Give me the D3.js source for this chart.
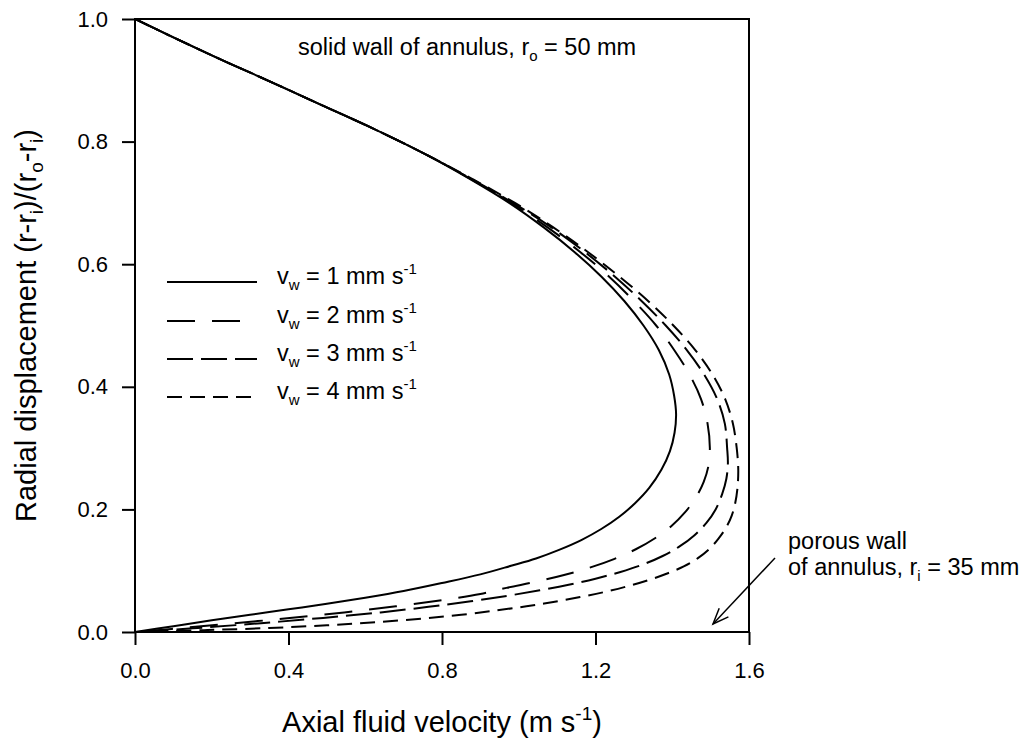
<!DOCTYPE html>
<html>
<head>
<meta charset="utf-8">
<script src="https://cdn.jsdelivr.net/npm/d3@7"></script>
<style>
  html, body { margin: 0; padding: 0; background: #fff; }
  svg { display: block; font-family: "Liberation Sans", Arial, sans-serif; }
</style>
</head>
<body>
<svg id="chart" width="1032" height="742"></svg>
<script>
// ---- data (axial velocity m/s vs radial displacement) ----
const xTicks = [0.0, 0.4, 0.8, 1.2, 1.6];
const yTicks = [0.0, 0.2, 0.4, 0.6, 0.8, 1.0];
const seriesLabels = ["1", "2", "3", "4"];

const vw1_v = [0,0.10,0.22,0.345,0.485,0.625,0.755,0.87,0.975,1.065,1.145,1.215,1.275,1.325,1.365,1.392,1.405,1.41,1.406,1.394,1.372,1.34,1.303,1.262,1.215,1.163,1.105,1.045,0.98,0.90,0.80,0.70,0.60,0.50,0.40,0.30,0.20,0.10,0];
const vw1_r = [1.0,0.97,0.935,0.90,0.86,0.82,0.78,0.74,0.70,0.66,0.62,0.58,0.54,0.50,0.46,0.42,0.385,0.355,0.325,0.295,0.265,0.235,0.21,0.188,0.168,0.15,0.134,0.12,0.108,0.094,0.08,0.067,0.056,0.046,0.037,0.028,0.019,0.0095,0];

const vw2_v = [0,0.10,0.22,0.345,0.485,0.625,0.755,0.872,0.98,1.075,1.16,1.235,1.30,1.358,1.405,1.445,1.475,1.492,1.498,1.494,1.482,1.462,1.433,1.398,1.355,1.305,1.248,1.185,1.118,1.045,0.968,0.90,0.80,0.68,0.545,0.39,0.22,0.095,0];
const vw2_r = [1.0,0.97,0.935,0.90,0.86,0.82,0.78,0.74,0.70,0.66,0.62,0.58,0.54,0.50,0.46,0.42,0.38,0.34,0.30,0.27,0.245,0.22,0.195,0.173,0.153,0.135,0.119,0.105,0.093,0.082,0.072,0.062,0.052,0.042,0.032,0.022,0.012,0.005,0];

const vw3_v = [0,0.10,0.22,0.345,0.485,0.625,0.755,0.874,0.985,1.085,1.172,1.25,1.32,1.383,1.438,1.483,1.517,1.537,1.543,1.545,1.541,1.53,1.513,1.489,1.458,1.42,1.375,1.323,1.265,1.20,1.13,1.055,0.97,0.875,0.765,0.64,0.49,0.32,0.15,0];
const vw3_r = [1.0,0.97,0.935,0.90,0.86,0.82,0.78,0.74,0.70,0.66,0.62,0.58,0.54,0.50,0.46,0.42,0.38,0.34,0.30,0.275,0.25,0.225,0.20,0.178,0.158,0.14,0.124,0.11,0.098,0.087,0.077,0.068,0.059,0.05,0.041,0.032,0.023,0.014,0.006,0];

const vw4_v = [0,0.10,0.22,0.345,0.485,0.625,0.755,0.876,0.99,1.09,1.18,1.262,1.337,1.403,1.46,1.505,1.538,1.558,1.568,1.572,1.57,1.564,1.555,1.54,1.52,1.496,1.466,1.43,1.385,1.335,1.28,1.222,1.16,1.09,1.02,0.94,0.85,0.75,0.63,0.50,0.35,0.18,0];
const vw4_r = [1.0,0.97,0.935,0.90,0.86,0.82,0.78,0.74,0.70,0.66,0.62,0.58,0.54,0.50,0.46,0.42,0.38,0.34,0.30,0.265,0.235,0.21,0.19,0.17,0.152,0.135,0.12,0.107,0.095,0.084,0.074,0.065,0.057,0.049,0.042,0.035,0.028,0.022,0.016,0.011,0.0065,0.003,0];

const seriesV = [vw1_v, vw2_v, vw3_v, vw4_v];
const seriesR = [vw1_r, vw2_r, vw3_r, vw4_r];
const dashes = [null, "28,17", "26,8", "15,8"];

// ---- layout ----
const svg = d3.select("#chart");
const L = 135, R = 749, T = 19, B = 632;
const x = d3.scaleLinear().domain([0, 1.6]).range([L, R]);
const y = d3.scaleLinear().domain([0, 1.0]).range([B, T]);

const FS_TICK = 22, FS_TXT = 23.5, FS_TITLE = 29;

// axes
const xAxis = d3.axisBottom(x).tickValues(xTicks).tickFormat(d3.format(".1f")).tickSize(13).tickPadding(18);
const yAxis = d3.axisLeft(y).tickValues(yTicks).tickFormat(d3.format(".1f")).tickSize(13).tickPadding(14);

const gx = svg.append("g").attr("transform", `translate(0,${B})`).call(xAxis);
const gy = svg.append("g").attr("transform", `translate(${L},0)`).call(yAxis);
[gx, gy].forEach(g => {
  g.select(".domain").remove();
  g.selectAll(".tick line").attr("stroke", "#000").attr("stroke-width", 2);
  g.selectAll(".tick text").attr("font-size", FS_TICK).attr("fill", "#000")
    .attr("font-family", "'Liberation Sans', Arial, sans-serif");
});
gx.selectAll(".tick text").attr("dy", "0").attr("y", 46);

// frame
svg.append("rect").attr("x", L).attr("y", T).attr("width", R - L).attr("height", B - T)
  .attr("fill", "none").attr("stroke", "#000").attr("stroke-width", 2);

// curves
const line = d3.line().x(d => x(d[0])).y(d => y(d[1])).curve(d3.curveCatmullRom.alpha(0.5));
svg.append("clipPath").attr("id", "clip").append("rect")
  .attr("x", L).attr("y", T).attr("width", R - L).attr("height", B - T);
seriesV.forEach((vs, i) => {
  const pts = vs.map((v, j) => [v, seriesR[i][j]]);
  svg.append("path").datum(pts).attr("d", line)
    .attr("fill", "none").attr("stroke", "#000").attr("stroke-width", 2)
    .attr("stroke-dasharray", dashes[i])
    .attr("clip-path", "url(#clip)");
});

// legend
const legX1 = 167, legYs = [282, 321, 359, 397], legX2s = [257, 240, 257, 252];
seriesLabels.forEach((lab, i) => {
  const yy = legYs[i];
  svg.append("line").attr("x1", legX1).attr("x2", legX2s[i]).attr("y1", yy).attr("y2", yy)
    .attr("stroke", "#000").attr("stroke-width", 2).attr("stroke-dasharray", dashes[i]);
  const t = svg.append("text").attr("x", 277).attr("y", yy + 2).attr("font-size", FS_TXT);
  t.append("tspan").text("v");
  t.append("tspan").attr("font-size", 15).attr("dy", 6).text("w");
  t.append("tspan").attr("dy", -6).text(` = ${lab} mm s`);
  t.append("tspan").attr("font-size", 15).attr("dy", -10).text("-1");
});

// annotation top
const a1 = svg.append("text").attr("x", 298).attr("y", 55).attr("font-size", FS_TXT);
a1.append("tspan").text("solid wall of annulus, r");
a1.append("tspan").attr("font-size", 15).attr("dy", 6).text("o");
a1.append("tspan").attr("dy", -6).text(" = 50 mm");

// annotation bottom right
svg.append("text").attr("x", 788).attr("y", 549).attr("font-size", FS_TXT).text("porous wall");
const a2 = svg.append("text").attr("x", 788).attr("y", 575).attr("font-size", FS_TXT);
a2.append("tspan").text("of annulus, r");
a2.append("tspan").attr("font-size", 15).attr("dy", 6).text("i");
a2.append("tspan").attr("dy", -6).text(" = 35 mm");

// arrow
const ax1 = 775, ay1 = 558, ax2 = 713, ay2 = 624;
svg.append("line").attr("x1", ax1).attr("y1", ay1).attr("x2", ax2).attr("y2", ay2)
  .attr("stroke", "#000").attr("stroke-width", 1.5);
const ang = Math.atan2(ay1 - ay2, ax1 - ax2);
const ah = 17, aw = 0.38;
const p1 = [ax2 + ah * Math.cos(ang + aw), ay2 + ah * Math.sin(ang + aw)];
const p2 = [ax2 + ah * Math.cos(ang - aw), ay2 + ah * Math.sin(ang - aw)];
svg.append("path").attr("d", `M${p1[0]},${p1[1]} L${ax2},${ay2} L${p2[0]},${p2[1]}`)
  .attr("fill", "none").attr("stroke", "#000").attr("stroke-width", 1.5);

// axis titles
const xt = svg.append("text").attr("x", (L + R) / 2).attr("y", 732).attr("text-anchor", "middle").attr("font-size", FS_TITLE);
xt.append("tspan").text("Axial fluid velocity (m s");
xt.append("tspan").attr("font-size", 19).attr("dy", -12).text("-1");
xt.append("tspan").attr("dy", 12).text(")");

const yt = svg.append("text").attr("transform", `translate(36,${(T + B) / 2}) rotate(-90)`)
  .attr("text-anchor", "middle").attr("font-size", FS_TITLE);
yt.append("tspan").text("Radial displacement (r-r");
yt.append("tspan").attr("font-size", 19).attr("dy", 7).text("i");
yt.append("tspan").attr("dy", -7).text(")/(r");
yt.append("tspan").attr("font-size", 19).attr("dy", 7).text("o");
yt.append("tspan").attr("dy", -7).text("-r");
yt.append("tspan").attr("font-size", 19).attr("dy", 7).text("i");
yt.append("tspan").attr("dy", -7).text(")");
</script>
</body>
</html>
